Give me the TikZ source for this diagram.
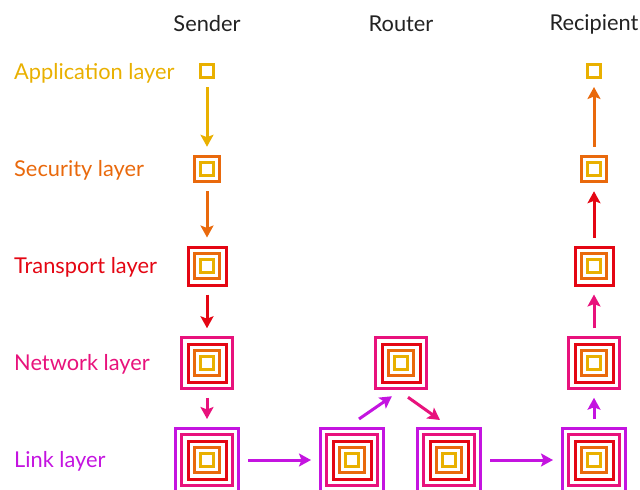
\documentclass[tikz,border=0pt]{standalone}
\usepackage{fontspec}
\setmainfont{Lato}
\usetikzlibrary{arrows.meta,calc}
\definecolor{c1}{HTML}{E9B000}
\definecolor{c2}{HTML}{E9690C}
\definecolor{c3}{HTML}{E40613}
\definecolor{c4}{HTML}{E8127C}
\definecolor{c5}{HTML}{C414E0}
\definecolor{hdrcol}{HTML}{222222}
\tikzset{
  sq/.style={draw, line width=3pt, inner sep=0pt, minimum size=#1},
  arr/.style={line width=3pt, -{Stealth[length=12pt,width=13pt,inset=2.5pt]}, shorten <=8pt, shorten >=8pt},
  hdr/.style={text=hdrcol, font=\fontsize{21.8}{26}\selectfont},
  lbl/.style={anchor=west, inner sep=0pt, font=\fontsize{21.8}{26}\selectfont},
}
\newcommand\layerstack[3]{%
  \foreach \k in {1,...,#3} {
    \pgfmathsetmacro\sz{13+12.5*(\k-1)}
    \node[sq=\sz pt, draw=c\k] (#1-\k) at #2 {};
  }%
}
\begin{document}
\begin{tikzpicture}[x=1pt,y=-1pt]
\useasboundingbox (0,0) rectangle (640,490);
% headers
\node[hdr] (hS) at (207,24) {Sender};
\node[hdr] (hR) at (401,24) {Router};
\node[hdr] (hC) at (594,24) {Recipient};
% labels
\node[lbl, text=c1] (l1) at (14,73.5) {Application layer};
\node[lbl, text=c2] (l2) at (14,170.5) {Security layer};
\node[lbl, text=c3] (l3) at (14,267.5) {Transport layer};
\node[lbl, text=c4] (l4) at (14,364.5) {Network layer};
\node[lbl, text=c5] (l5) at (14,461.5) {Link layer};
% sender
\layerstack{s1}{(207,71)}{1}
\layerstack{s2}{(207,169)}{2}
\layerstack{s3}{(207,266)}{3}
\layerstack{s4}{(207,363)}{4}
\layerstack{s5}{(207,460)}{5}
% router
\layerstack{r4}{(401,363)}{4}
\layerstack{ra}{(352,460)}{5}
\layerstack{rb}{(449,460)}{5}
% recipient
\layerstack{t1}{(594,71)}{1}
\layerstack{t2}{(594,169)}{2}
\layerstack{t3}{(594,266)}{3}
\layerstack{t4}{(594,363)}{4}
\layerstack{t5}{(594,460)}{5}
% sender arrows
\draw[arr, c1] (s1-1) -- (s2-2);
\draw[arr, c2] (s2-2) -- (s3-3);
\draw[arr, c3] (s3-3) -- (s4-4);
\draw[arr, c4] (s4-4) -- (s5-5);
% link arrows
\draw[arr, c5] (s5-5) -- (ra-5);
\draw[arr, c5] (rb-5) -- (t5-5);
% router diagonals
\coordinate (d1s) at ($(ra-5.north)+(7,-8)$);
\coordinate (d1e) at ($(r4-4.south)+(-9,6.5)$);
\coordinate (d2s) at ($(r4-4.south)+(7,7.5)$);
\coordinate (d2e) at ($(rb-5.north)+(-9,-7)$);
\draw[arr, c5, shorten <=0pt, shorten >=0pt] (d1s) -- (d1e);
\draw[arr, c4, shorten <=0pt, shorten >=0pt] (d2s) -- (d2e);
% recipient arrows
\draw[arr, c5] (t5-5) -- (t4-4);
\draw[arr, c4] (t4-4) -- (t3-3);
\draw[arr, c3] (t3-3) -- (t2-2);
\draw[arr, c2] (t2-2) -- (t1-1);
\end{tikzpicture}
\end{document}
